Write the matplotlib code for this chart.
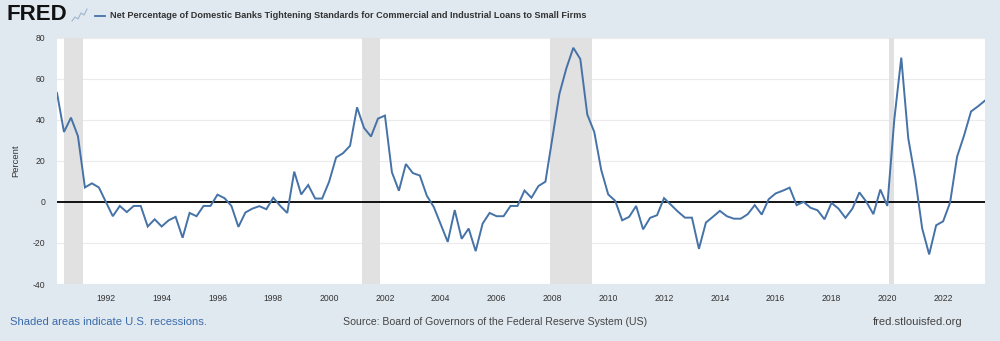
import matplotlib
matplotlib.use("Agg")
import matplotlib.pyplot as plt
from matplotlib.lines import Line2D
import numpy as np

plt.rcParams['font.family'] = ['Liberation Sans', 'DejaVu Sans']

# ---- data (quarterly, starting 1990 Q2) ----
start_year = 1990.25
values = [
    53, 34, 41, 32, 7, 9, 7, 0, -7, -2, -5, -2, -2, -12, -8.5, -12, -9, -7.3,
    -17.5, -5.4, -7, -2, -2, 3.5, 1.8, -2, -12.2, -5.2, -3.3, -2.1, -3.6, 2,
    -2, -5.4, 14.7, 3.6, 8.2, 1.6, 1.6, 9.8, 21.6, 23.7, 27.3, 46, 36, 31.8,
    40.5, 42, 14.4, 5.4, 18.4, 14, 12.8, 3, -2.5, -11, -19.5, -4, -18, -13,
    -24, -10.6, -5.4, -7, -7, -2, -2, 5.5, 2, 7.7, 9.8, 31, 52.5, 65, 75,
    69.5, 42.5, 34, 15.5, 3.6, 0.5, -9, -7.3, -2, -13.4, -7.8, -6.5, 1.8,
    -1.5, -4.8, -7.7, -7.7, -22.9, -10.1, -7.3, -4.4, -7, -8.2, -8.2, -6,
    -1.6, -6.2, 1.3, 4.1, 5.4, 6.9, -1.6, 0, -2.9, -4.1, -8.5, -0.5, -3.3,
    -7.8, -3.3, 4.6, 0, -6, 6, -2, 40, 70.2, 31, 11.4, -13, -25.6, -11.4,
    -9.5, -0.3, 22, 32.3, 44, 46.5, 49.3,
]
recession_starts = [1990.5, 2001.167, 2007.917, 2020.05]
recession_ends = [1991.167, 2001.833, 2009.417, 2020.25]
y_ticks = [-40, -20, 0, 20, 40, 60, 80]
x_ticks = list(range(1992, 2024, 2))

title = "Net Percentage of Domestic Banks Tightening Standards for Commercial and Industrial Loans to Small Firms"

dates = start_year + 0.25 * np.arange(len(values))

BG = '#e1e9f0'
LINE = '#4572a7'

fig = plt.figure(figsize=(10, 3.41), dpi=100, facecolor=BG)
W, H = 1000, 341
ax = fig.add_axes([57 / W, 1 - 284 / H, 928 / W, (284 - 37.5) / H])
ax.set_facecolor('white')

for s, e in zip(recession_starts, recession_ends):
    ax.axvspan(s, e, color='#e1e1e1', lw=0, zorder=1)

for yv in y_ticks:
    if yv != 0:
        ax.axhline(yv, color='#ebebeb', lw=0.8, zorder=0.5)
ax.axhline(0, color='black', lw=1.3, zorder=2)

ax.plot(dates, values, color=LINE, lw=1.4, zorder=3, solid_joinstyle='miter')

ax.set_xlim(dates[0], dates[-1])
ax.set_ylim(-40, 80)
ax.set_yticks(y_ticks)
ax.set_yticklabels([str(v) for v in y_ticks])
ax.set_xticks(x_ticks)
ax.set_xticklabels([str(v) for v in x_ticks])
ax.tick_params(axis='both', length=0, labelsize=6.2, colors='#333333')
ax.tick_params(axis='y', pad=8.5)
ax.tick_params(axis='x', pad=7)
for sp in ax.spines.values():
    sp.set_visible(False)

ax.set_ylabel('Percent', fontsize=6.8, color='#333333')
ax.yaxis.set_label_coords(-37 / 928, 0.5)

# header
fig.text(7 / W, 1 - 14.5 / H, 'FRED', fontsize=16, fontweight='bold',
         color='#111111', va='center', ha='left')
icon_x = np.array([72, 75, 78, 81, 84, 87]) / W
icon_y = 1 - np.array([21, 17, 19, 13, 15, 9]) / H
fig.add_artist(Line2D(icon_x, icon_y, color='#9fb4cc', lw=0.8))
fig.add_artist(Line2D([95 / W, 105 / W], [1 - 16 / H, 1 - 16 / H], color=LINE, lw=1.3))
fig.text(110 / W, 1 - 16 / H, title, fontsize=6.55, fontweight='bold',
         color='#333333', va='center', ha='left')

# footer
fig.text(10 / W, 1 - 322 / H, 'Shaded areas indicate U.S. recessions.', fontsize=8.1,
         color='#3a6bab', va='center', ha='left')
fig.text(343 / W, 1 - 322 / H, 'Source: Board of Governors of the Federal Reserve System (US)',
         fontsize=7.6, color='#444444', va='center', ha='left')
fig.text(962 / W, 1 - 322 / H, 'fred.stlouisfed.org', fontsize=8.1,
         color='#444444', va='center', ha='right')

fig.savefig('out.png', dpi=100, facecolor=BG)
